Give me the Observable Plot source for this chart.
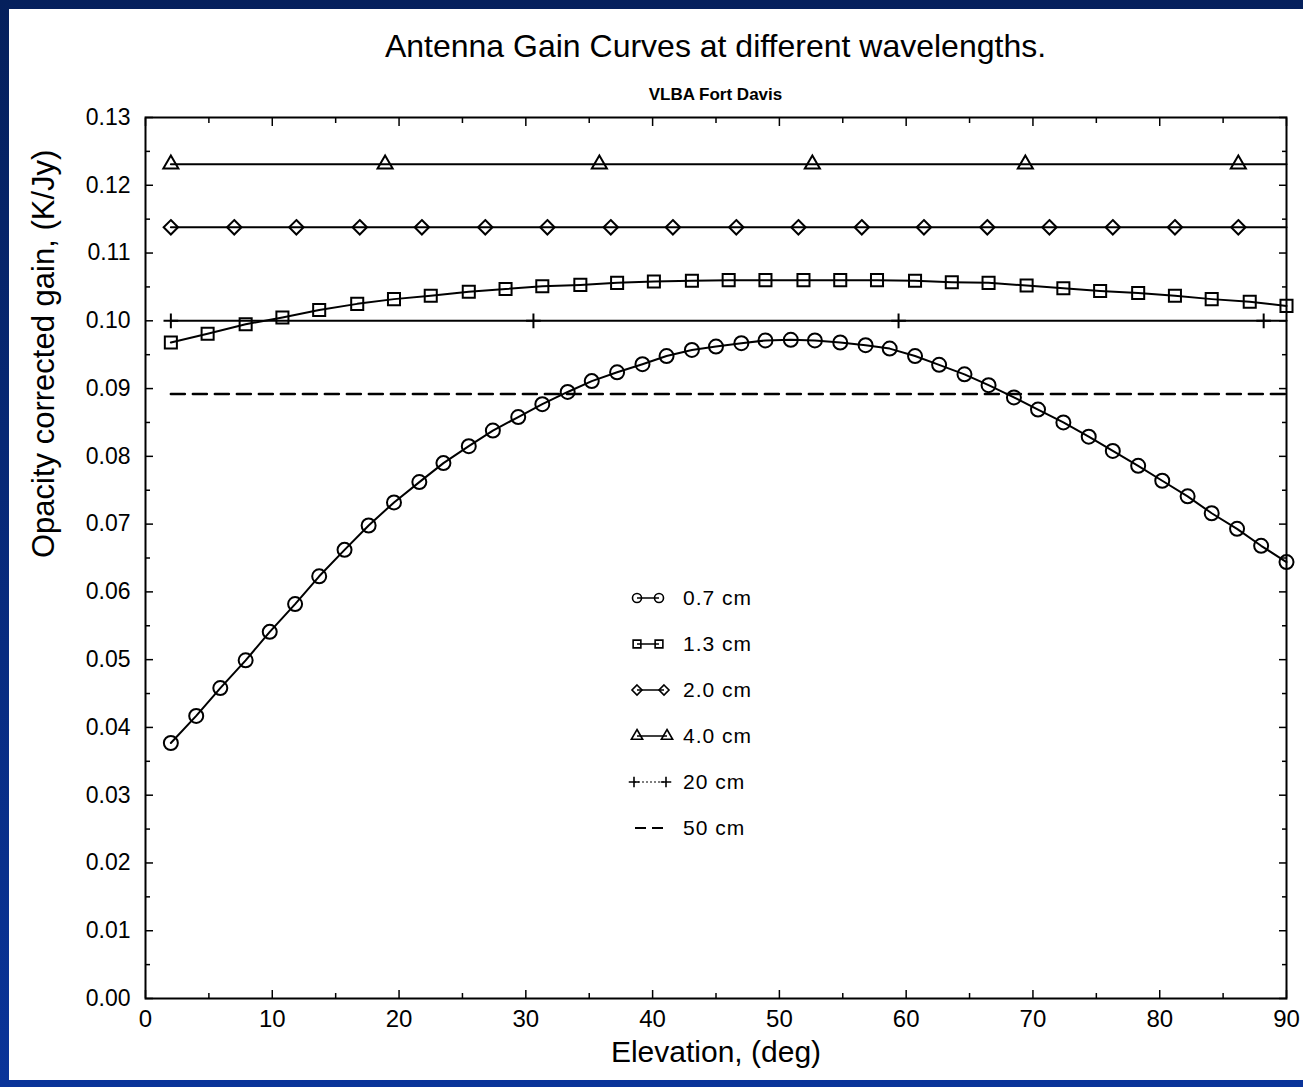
<!DOCTYPE html>
<html>
<head>
<meta charset="utf-8">
<script src="https://cdn.jsdelivr.net/npm/d3@7"></script>
<script src="https://cdn.jsdelivr.net/npm/@observablehq/plot@0.6"></script>
<style>
  html, body { margin: 0; padding: 0; }
  body {
    width: 1303px; height: 1087px; position: relative; overflow: hidden;
    background: linear-gradient(180deg, #05205c 0%, #0a3499 100%);
    font-family: "Liberation Sans", Arial, Helvetica, sans-serif;
  }
  #panel { position: absolute; left: 9px; top: 9px; width: 1294px; height: 1071px; background: #fff; }
  #title { position: absolute; left: 136px; width: 1141px; top: 21px; text-align: center;
           font-size: 32px; line-height: 32px; color: #000; }
  #subtitle { position: absolute; left: 136px; width: 1141px; top: 77px; text-align: center;
              font-size: 17px; line-height: 17px; font-weight: bold; color: #000; }
  #chart { position: absolute; left: 0; top: 95px; }
</style>
</head>
<body>
<div id="panel">
  <div id="title">Antenna Gain Curves at different wavelengths.</div>
  <div id="subtitle">VLBA Fort Davis</div>
  <div id="chart"></div>
</div>
<script>
// Elevation (deg) and opacity-corrected gain (K/Jy) per observing wavelength
const elev07 = [2.0, 4.0, 5.9, 7.9, 9.8, 11.8, 13.7, 15.7, 17.6, 19.6, 21.6, 23.5, 25.5, 27.4, 29.4, 31.3,
  33.3, 35.2, 37.2, 39.2, 41.1, 43.1, 45.0, 47.0, 48.9, 50.9, 52.8, 54.8, 56.8, 58.7, 60.7, 62.6, 64.6,
  66.5, 68.5, 70.4, 72.4, 74.4, 76.3, 78.3, 80.2, 82.2, 84.1, 86.1, 88.0, 90.0];
const gain07 = [0.0377, 0.0417, 0.0458, 0.0499, 0.0541, 0.0582, 0.0623, 0.0662, 0.0698, 0.0732,
  0.0762, 0.0790, 0.0815, 0.0838, 0.0858, 0.0877, 0.0895, 0.0911, 0.0924, 0.0936,
  0.0948, 0.0957, 0.0962, 0.0967, 0.0971, 0.0972, 0.0971, 0.0968, 0.0964, 0.0959,
  0.0948, 0.0935, 0.0921, 0.0905, 0.0887, 0.0869, 0.0850, 0.0829, 0.0808, 0.0786,
  0.0764, 0.0741, 0.0716, 0.0693, 0.0668, 0.0644];

const elev13 = [2.0, 4.9, 7.9, 10.8, 13.7, 16.7, 19.6, 22.5, 25.5, 28.4, 31.3, 34.3, 37.2, 40.1, 43.1,
  46.0, 48.9, 51.9, 54.8, 57.7, 60.7, 63.6, 66.5, 69.5, 72.4, 75.3, 78.3, 81.2, 84.1, 87.1, 90.0];
const gain13 = [0.0968, 0.0981, 0.0995, 0.1005, 0.1016, 0.1025, 0.1032, 0.1037, 0.1043, 0.1047,
  0.1051, 0.1053, 0.1056, 0.1058, 0.1059, 0.1060, 0.1060, 0.1060, 0.1060, 0.1060,
  0.1059, 0.1057, 0.1056, 0.1052, 0.1048, 0.1044, 0.1041, 0.1037, 0.1032, 0.1028, 0.1022];

// Flat curves: constant gain over the elevation span, with marker positions
const elevSpan = [2.0, 90.0];
const gain20 = 0.1138;   // 2.0 cm
const marks20 = [2.0, 7.0, 11.9, 16.9, 21.8, 26.8, 31.7, 36.7, 41.6, 46.6, 51.5, 56.5, 61.4, 66.4, 71.3, 76.3, 81.2, 86.2];
const gain40 = 0.1231;   // 4.0 cm
const marks40 = [2.0, 18.9, 35.8, 52.6, 69.4, 86.2];
const gain200 = 0.1000;  // 20 cm
const marks200 = [2.0, 30.6, 59.4, 88.2];
const gain500 = 0.0892;  // 50 cm

const legendLabels = ["0.7 cm", "1.3 cm", "2.0 cm", "4.0 cm", "20 cm", "50 cm"];

const xMajor = [0, 10, 20, 30, 40, 50, 60, 70, 80, 90];
const xMinor = [5, 15, 25, 35, 45, 55, 65, 75, 85];
const yMajor = [0, 0.01, 0.02, 0.03, 0.04, 0.05, 0.06, 0.07, 0.08, 0.09, 0.10, 0.11, 0.12, 0.13];
const yMinor = [0.005, 0.015, 0.025, 0.035, 0.045, 0.055, 0.065, 0.075, 0.085, 0.095, 0.105, 0.115, 0.125];

const s07 = elev07.map((x, i) => ({x, y: gain07[i]}));
const s13 = elev13.map((x, i) => ({x, y: gain13[i]}));
const flat = (g) => elevSpan.map(x => ({x, y: g}));
const noText = () => "";

const font = '"Liberation Sans", Arial, Helvetica, sans-serif';
const mk = {fill: "none", stroke: "#000", strokeWidth: 2};

const chart = Plot.plot({
  width: 1294,
  height: 975,
  marginTop: 13,
  marginBottom: 81,
  marginLeft: 136,
  marginRight: 17,
  x: {domain: [0, 90]},
  y: {domain: [0, 0.13]},
  style: {fontFamily: font, fontSize: "23px", color: "#000", background: "#fff", overflow: "visible"},
  marks: [
    // tick labels
    Plot.axisX({anchor: "bottom", ticks: xMajor, tickSize: 0, tickPadding: 11, fontSize: 24,
                tickFormat: d3.format("d"), label: null}),
    Plot.axisY({anchor: "left", ticks: yMajor, tickSize: 0, tickPadding: 15, fontSize: 23,
                tickFormat: d3.format(".2f"), label: null}),
    // inward ticks on all four sides
    Plot.axisX({anchor: "bottom", ticks: xMajor, tickSize: 8, dy: -8, tickFormat: noText, label: null, strokeWidth: 1.5}),
    Plot.axisX({anchor: "bottom", ticks: xMinor, tickSize: 5, dy: -5, tickFormat: noText, label: null, strokeWidth: 1.5}),
    Plot.axisX({anchor: "top", ticks: xMajor, tickSize: 8, dy: 8, tickFormat: noText, label: null, strokeWidth: 1.5}),
    Plot.axisX({anchor: "top", ticks: xMinor, tickSize: 5, dy: 5, tickFormat: noText, label: null, strokeWidth: 1.5}),
    Plot.axisY({anchor: "left", ticks: yMajor, tickSize: 8, dx: 8, tickFormat: noText, label: null, strokeWidth: 1.5}),
    Plot.axisY({anchor: "left", ticks: yMinor, tickSize: 5, dx: 5, tickFormat: noText, label: null, strokeWidth: 1.5}),
    Plot.axisY({anchor: "right", ticks: yMajor, tickSize: 8, dx: -8, tickFormat: noText, label: null, strokeWidth: 1.5}),
    Plot.axisY({anchor: "right", ticks: yMinor, tickSize: 5, dx: -5, tickFormat: noText, label: null, strokeWidth: 1.5}),
    Plot.frame({stroke: "#000", strokeWidth: 2}),

    // axis titles
    Plot.text(["Elevation, (deg)"], {text: d => d, frameAnchor: "bottom", dy: 54, fontSize: 30, lineAnchor: "middle"}),
    Plot.text(["Opacity corrected gain, (K/Jy)"], {text: d => d, frameAnchor: "left", dx: -101, rotate: -90,
                                                   fontSize: 31, lineAnchor: "middle"}),

    // 50 cm
    Plot.line(flat(gain500), {x: "x", y: "y", stroke: "#000", strokeWidth: 2.5, strokeDasharray: "14,8"}),
    // 20 cm
    Plot.line(flat(gain200), {x: "x", y: "y", stroke: "#000", strokeWidth: 2}),
    Plot.dot(marks200, {x: d => d, y: () => gain200, symbol: "plus", r: 4.8, ...mk}),
    // 4.0 cm
    Plot.line(flat(gain40), {x: "x", y: "y", stroke: "#000", strokeWidth: 2}),
    Plot.dot(marks40, {x: d => d, y: () => gain40, symbol: "triangle", r: 5.6, ...mk}),
    // 2.0 cm
    Plot.line(flat(gain20), {x: "x", y: "y", stroke: "#000", strokeWidth: 2}),
    Plot.dot(marks20, {x: d => d, y: () => gain20, symbol: "diamond2", r: 6.5, ...mk}),
    // 1.3 cm
    Plot.line(s13, {x: "x", y: "y", stroke: "#000", strokeWidth: 2}),
    Plot.dot(s13, {x: "x", y: "y", symbol: "square", r: 6.8, ...mk}),
    // 0.7 cm
    Plot.line(s07, {x: "x", y: "y", stroke: "#000", strokeWidth: 2}),
    Plot.dot(s07, {x: "x", y: "y", symbol: "circle", r: 7, ...mk})
  ]
});

document.getElementById("chart").appendChild(chart);

// Legend block inside the plotting area
const legendSpec = [
  {type: d3.symbolCircle, size: 64, a: 0, b: 22},
  {type: d3.symbolSquare, size: 60, a: 0, b: 22},
  {type: d3.symbolDiamond2, size: 64, a: 0, b: 27},
  {type: d3.symbolTriangle, size: 55, a: 0, b: 30},
  {type: d3.symbolPlus, size: 38, a: -3, b: 29, dotted: true},
  {type: null, a: -2, b: 30, dashed: true}
];
const legend = d3.select(chart).append("g")
  .attr("transform", "translate(628,494)")
  .attr("font-family", font)
  .attr("font-size", 21)
  .attr("text-anchor", "start")
  .attr("fill", "#000");
legendLabels.forEach((label, i) => {
  const spec = legendSpec[i];
  const row = legend.append("g").attr("transform", `translate(0,${i * 46})`);
  const seg = row.append("line")
    .attr("x1", spec.a).attr("x2", spec.b).attr("y1", 0).attr("y2", 0)
    .attr("stroke", "#000").attr("stroke-width", spec.dashed ? 2 : 1.5);
  if (spec.dashed) seg.attr("stroke-dasharray", "11,6");
  if (spec.dotted) seg.attr("stroke-dasharray", "2,2").attr("stroke-width", 1.2);
  if (spec.type) {
    for (const px of [spec.a, spec.b]) {
      row.append("path")
        .attr("d", d3.symbol().type(spec.type).size(spec.size)())
        .attr("transform", `translate(${px},0)`)
        .attr("fill", "none").attr("stroke", "#000").attr("stroke-width", 1.6);
    }
  }
  row.append("text")
    .attr("x", 46).attr("y", 0).attr("dy", "0.35em")
    .attr("text-anchor", "start")
    .attr("letter-spacing", "1px")
    .text(label);
});
</script>
</body>
</html>
